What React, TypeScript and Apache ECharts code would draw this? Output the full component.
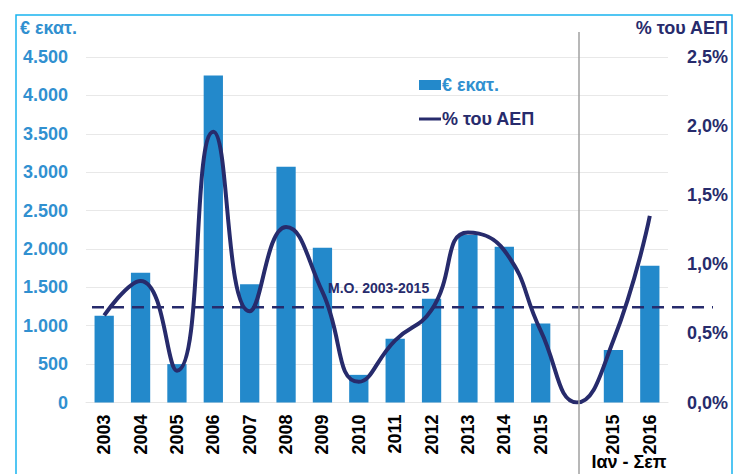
import React, { useEffect, useRef } from "react";
import * as echarts from "echarts";

const categories = ["2003", "2004", "2005", "2006", "2007", "2008", "2009", "2010", "2011", "2012", "2013", "2014", "2015", "", "2015", "2016"];
const euroMillions: (number | null)[] = [1130, 1690, 500, 4260, 1540, 3070, 2015, 360, 830, 1350, 2180, 2030, 1030, null, 685, 1780];
const gdpPercent = [0.63, 0.88, 0.23, 1.96, 0.66, 1.27, 0.8, 0.15, 0.45, 0.67, 1.23, 1.1, 0.52, 0, 0.45, 1.35];
const averageLine = [0.69, 0.69];
const avgLabel = "M.O. 2003-2015";
const periodLabel = "Ιαν - Σεπ";
const leftTicks = { min: 0, max: 4500, interval: 500 };
const rightTicks = { min: 0, max: 2.5, interval: 0.5 };

const FONT = "'Liberation Sans', Arial, sans-serif";
const BAR = "#2389cb";
const LEFT_TXT = "#3190d0";
const NAVY = "#272b6c";

export default function App() {
  const ref = useRef<HTMLDivElement>(null);
  useEffect(() => {
    if (!ref.current) return;
    const chart = echarts.init(ref.current, undefined, { renderer: "svg" });
    chart.setOption({
      animation: false,
      backgroundColor: "#ffffff",
      grid: [
        { left: 86, right: 73, top: 57, bottom: 71.5 },
        { left: 92, right: 28, top: 57, bottom: 71.5 },
      ],
      legend: {
        orient: "vertical",
        left: 414,
        top: 71,
        itemGap: 16,
        itemWidth: 22,
        itemHeight: 10,
        selectedMode: false,
        textStyle: { fontFamily: FONT, fontWeight: "bold", fontSize: 18, padding: [0, 0, 0, -4] },
        data: [
          { name: "€ εκατ.", textStyle: { color: LEFT_TXT }, icon: "rect" },
          { name: "% του ΑΕΠ", textStyle: { color: NAVY }, icon: "path://M0,4 L22,4 L22,7 L0,7 Z" },
        ],
      },
      xAxis: [
        {
          type: "category",
          data: categories,
          gridIndex: 0,
          axisLine: { show: true, lineStyle: { color: "#e6e6e6" } },
          axisTick: { show: false },
          axisLabel: { rotate: 90, margin: 12, color: "#000", fontFamily: FONT, fontWeight: "bold", fontSize: 18, interval: 0 },
        },
        { type: "category", data: ["a", "b"], gridIndex: 1, boundaryGap: false, show: false },
      ],
      yAxis: [
        {
          type: "value",
          gridIndex: 0,
          ...leftTicks,
          splitLine: { lineStyle: { color: "#e8e8e8" } },
          axisLabel: {
            color: LEFT_TXT,
            fontFamily: FONT,
            fontWeight: "bold",
            fontSize: 18,
            margin: 18,
            formatter: (v: number) => String(v).replace(/\B(?=(\d{3})+(?!\d))/g, "."),
          },
        },
        {
          type: "value",
          gridIndex: 0,
          ...rightTicks,
          splitLine: { show: false },
          axisLabel: {
            color: NAVY,
            fontFamily: FONT,
            fontWeight: "bold",
            fontSize: 18,
            margin: 60,
            align: "right",
            formatter: (v: number) => v.toFixed(1).replace(".", ",") + "%",
          },
        },
        { type: "value", gridIndex: 1, ...rightTicks, show: false },
      ],
      series: [
        {
          name: "€ εκατ.",
          type: "bar",
          data: euroMillions,
          xAxisIndex: 0,
          yAxisIndex: 0,
          barWidth: "53%",
          itemStyle: { color: BAR },
          z: 2,
        },
        {
          name: "% του ΑΕΠ",
          type: "line",
          data: gdpPercent,
          xAxisIndex: 0,
          yAxisIndex: 1,
          smooth: 0.5,
          symbol: "none",
          lineStyle: { color: NAVY, width: 4 },
          itemStyle: { color: NAVY },
          z: 4,
        },
        {
          name: "avg",
          type: "line",
          data: averageLine,
          xAxisIndex: 1,
          yAxisIndex: 2,
          symbol: "none",
          lineStyle: { color: NAVY, width: 2.5, type: [12, 8] },
          z: 3,
        },
      ],
      graphic: [
        {
          type: "rect",
          shape: { x: 16, y: 15, width: 716, height: 480 },
          style: { fill: "none", stroke: "#18b4f0", lineWidth: 1.5 },
          z: 0,
        },
        {
          type: "line",
          shape: { x1: 579, y1: 32, x2: 579, y2: 474 },
          style: { stroke: "#a0a0a0", lineWidth: 1.5 },
          z: 10,
        },
        {
          type: "text",
          x: 20,
          y: 19,
          style: { text: "€ εκατ.", fill: LEFT_TXT, font: `bold 18px ${FONT}` },
        },
        {
          type: "text",
          x: 728,
          y: 19,
          style: { text: "% του ΑΕΠ", fill: NAVY, font: `bold 18px ${FONT}`, align: "right" },
        },
        {
          type: "text",
          x: 328,
          y: 281,
          style: { text: avgLabel, fill: NAVY, font: `bold 14px ${FONT}` },
          z: 10,
        },
        {
          type: "text",
          x: 629,
          y: 453,
          style: { text: periodLabel, fill: "#000", font: `bold 18px ${FONT}`, align: "center" },
        },
      ],
    });
    return () => chart.dispose();
  }, []);
  return <div ref={ref} style={{ position: "fixed", left: 0, top: 0, width: 741, height: 474 }} />;
}
